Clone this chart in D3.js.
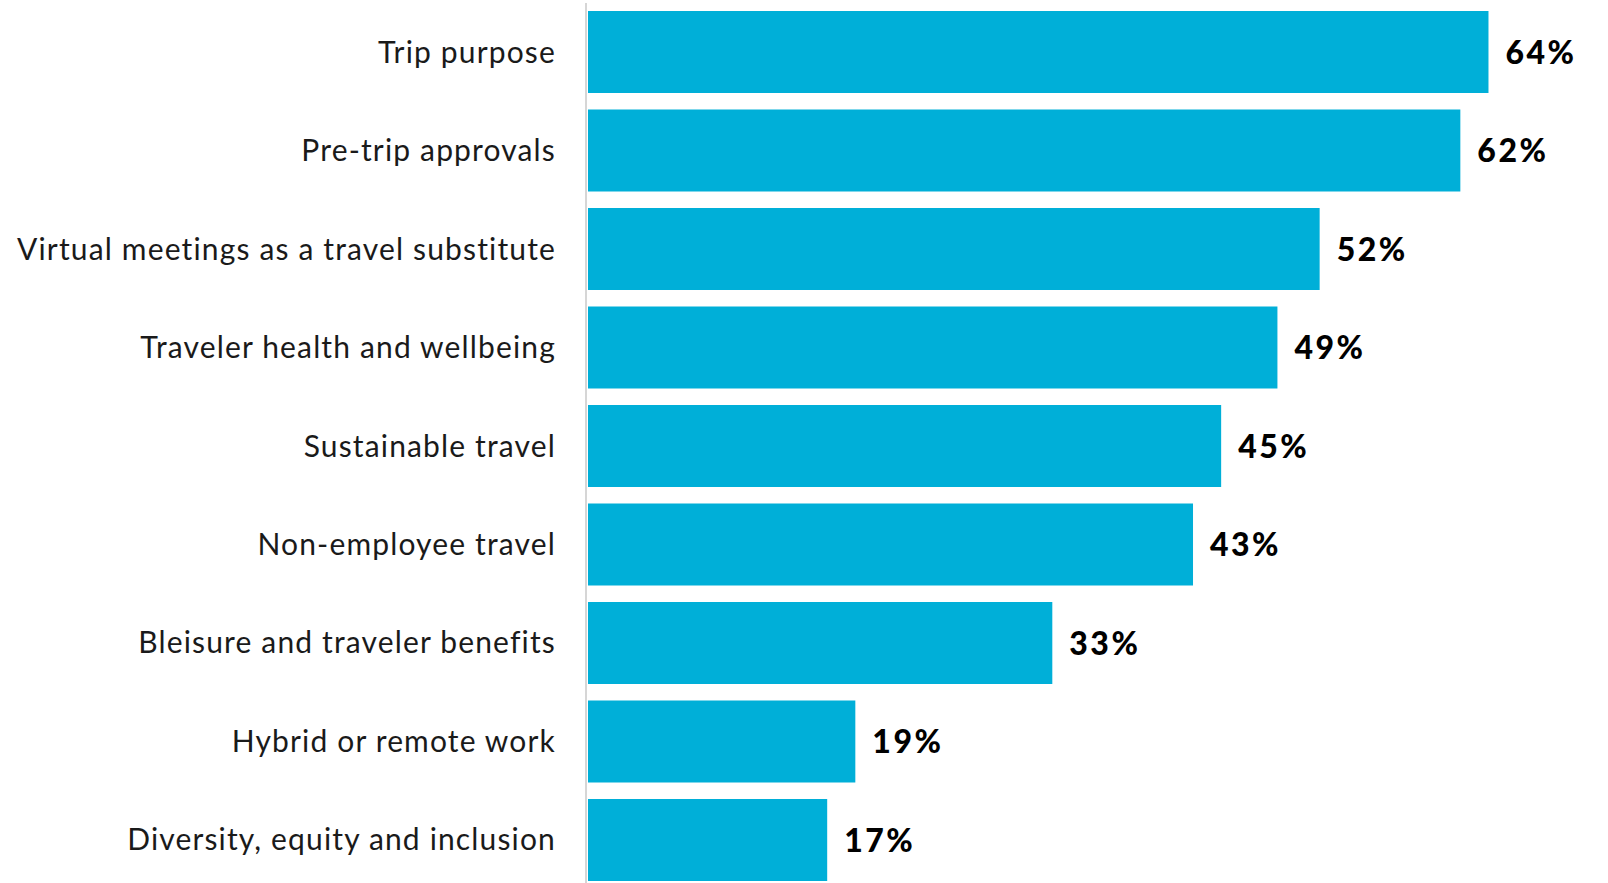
<!DOCTYPE html>
<html>
<head>
<meta charset="utf-8">
<script src="https://cdn.jsdelivr.net/npm/d3@7"></script>
<style>
  html, body { margin: 0; padding: 0; background: #ffffff; }
  svg { display: block; }
</style>
</head>
<body>
<svg id="chart" width="1608" height="883"></svg>
<script>
// Share of respondents per travel-policy topic (%)
const categories = [
  "Trip purpose",
  "Pre-trip approvals",
  "Virtual meetings as a travel substitute",
  "Traveler health and wellbeing",
  "Sustainable travel",
  "Non-employee travel",
  "Bleisure and traveler benefits",
  "Hybrid or remote work",
  "Diversity, equity and inclusion"
];
const values = [64, 62, 52, 49, 45, 43, 33, 19, 17];

const W = 1608, H = 883;
const plotLeft = 588;
const svg = d3.select("#chart");

const x = d3.scaleLinear().domain([0, 100]).range([plotLeft, plotLeft + 1407]);
const y = d3.scaleBand()
  .domain(categories)
  .range([11, 881])
  .paddingInner(0.1675)
  .paddingOuter(0);

const rows = categories.map((c, i) => ({ cat: c, val: values[i] }));

// bars
svg.append("g")
  .selectAll("rect")
  .data(rows)
  .join("rect")
  .attr("x", x(0))
  .attr("y", d => y(d.cat))
  .attr("width", d => x(d.val) - x(0))
  .attr("height", y.bandwidth())
  .attr("fill", "#00AFD8");

// vertical baseline
svg.append("line")
  .attr("x1", plotLeft - 2).attr("x2", plotLeft - 2)
  .attr("y1", 3).attr("y2", H)
  .attr("stroke", "#d6d6d6")
  .attr("stroke-width", 2);

// category labels
svg.append("g")
  .selectAll("text")
  .data(rows)
  .join("text")
  .attr("x", 556)
  .attr("y", d => y(d.cat) + y.bandwidth() / 2)
  .attr("dy", "0.35em")
  .attr("text-anchor", "end")
  .attr("font-family", "Lato, 'Open Sans', sans-serif")
  .attr("font-size", 30)
  .attr("letter-spacing", 1.15)
  .attr("fill", "#1a1a1a")
  .text(d => d.cat);

// value labels
svg.append("g")
  .selectAll("text")
  .data(rows)
  .join("text")
  .attr("x", d => x(d.val) + 17)
  .attr("y", d => y(d.cat) + y.bandwidth() / 2)
  .attr("dy", "0.36em")
  .attr("font-family", "Lato, 'Open Sans', sans-serif")
  .attr("font-weight", 900)
  .attr("font-size", 32)
  .attr("letter-spacing", 2.5)
  .attr("fill", "#000000")
  .text(d => d.val + "%");
</script>
</body>
</html>
